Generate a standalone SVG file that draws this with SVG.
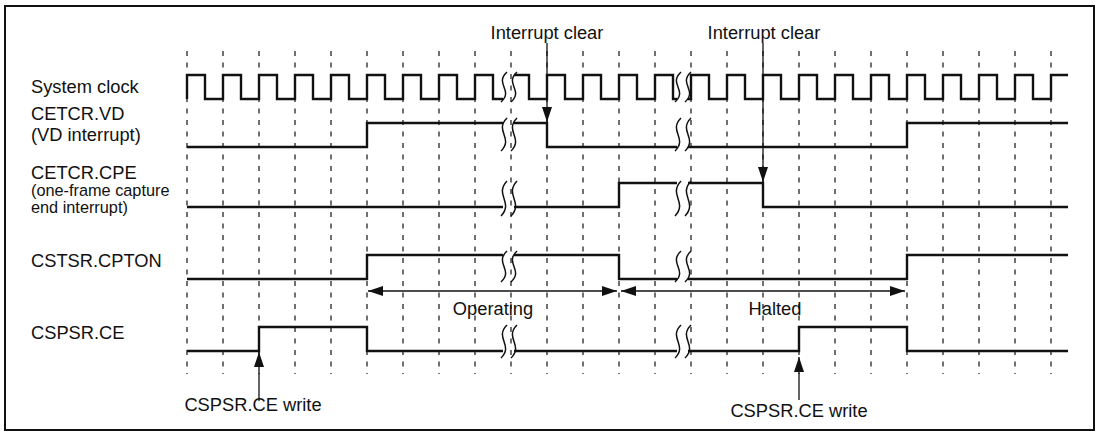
<svg xmlns="http://www.w3.org/2000/svg" width="1100" height="432" viewBox="0 0 1100 432">
<style>
text{font-family:"Liberation Sans",Arial,sans-serif;font-size:18.3px;fill:#111}
.sm{font-size:16.3px}
.mid{text-anchor:middle}
.sig{fill:none;stroke:#111;stroke-width:2.4;stroke-linejoin:miter}
.brk{fill:none;stroke:#111;stroke-width:1.5}
.grid{stroke:#111;stroke-width:1.2;stroke-dasharray:5 6.5}
.con{fill:none;stroke:#111;stroke-width:1.3}
</style>
<defs>
<marker id="ah" markerUnits="userSpaceOnUse" markerWidth="16" markerHeight="11" refX="15" refY="5.5" orient="auto-start-reverse">
<path d="M0,0.5 L15,5.5 L0,10.5 z" fill="#111"/>
</marker>
</defs>
<rect x="5" y="6" width="1089" height="424" fill="#fff" stroke="#111" stroke-width="2"/>
<g id="grid">
<line class="grid" x1="187" y1="51" x2="187" y2="374"/>
<line class="grid" x1="223" y1="51" x2="223" y2="374"/>
<line class="grid" x1="259" y1="51" x2="259" y2="374"/>
<line class="grid" x1="295" y1="51" x2="295" y2="374"/>
<line class="grid" x1="331" y1="51" x2="331" y2="374"/>
<line class="grid" x1="367" y1="51" x2="367" y2="374"/>
<line class="grid" x1="403" y1="51" x2="403" y2="374"/>
<line class="grid" x1="439" y1="51" x2="439" y2="374"/>
<line class="grid" x1="475" y1="51" x2="475" y2="374"/>
<line class="grid" x1="511" y1="51" x2="511" y2="374"/>
<line class="grid" x1="547" y1="51" x2="547" y2="374"/>
<line class="grid" x1="583" y1="51" x2="583" y2="374"/>
<line class="grid" x1="619" y1="51" x2="619" y2="374"/>
<line class="grid" x1="655" y1="51" x2="655" y2="374"/>
<line class="grid" x1="691" y1="51" x2="691" y2="374"/>
<line class="grid" x1="727" y1="51" x2="727" y2="374"/>
<line class="grid" x1="763" y1="51" x2="763" y2="374"/>
<line class="grid" x1="799" y1="51" x2="799" y2="374"/>
<line class="grid" x1="835" y1="51" x2="835" y2="374"/>
<line class="grid" x1="871" y1="51" x2="871" y2="374"/>
<line class="grid" x1="907" y1="51" x2="907" y2="374"/>
<line class="grid" x1="943" y1="51" x2="943" y2="374"/>
<line class="grid" x1="979" y1="51" x2="979" y2="374"/>
<line class="grid" x1="1015" y1="51" x2="1015" y2="374"/>
<line class="grid" x1="1051" y1="51" x2="1051" y2="374"/>
</g>
<g id="clock">
<text x="31" y="93">System clock</text>
<path class="sig" d="M187,99 V75 H205 V99 H223 V75 H241 V99 H259 V75 H277 V99 H295 V75 H313 V99 H331 V75 H349 V99 H367 V75 H385 V99 H403 V75 H421 V99 H439 V75 H457 V99 H475 V75 H493 V99 H503"/>
<path class="sig" d="M514,75 H529 V99 H547 V75 H565 V99 H583 V75 H601 V99 H619 V75 H637 V99 H655 V75 H673 V99 H677"/>
<path class="sig" d="M688,99 H691 V75 H709 V99 H727 V75 H745 V99 H763 V75 H781 V99 H799 V75 H817 V99 H835 V75 H853 V99 H871 V75 H889 V99 H907 V75 H925 V99 H943 V75 H961 V99 H979 V75 H997 V99 H1015 V75 H1033 V99 H1051 V75 H1068"/>
<path class="brk" d="M507,72 C494,84 514,90 501,102 M517,72 C504,84 524,90 511,102 M681,72 C668,84 688,90 675,102 M691,72 C678,84 698,90 685,102"/>
</g>
<g id="vd">
<text x="31" y="120">CETCR.VD</text>
<text x="31" y="141">(VD interrupt)</text>
<path class="sig" d="M187,147 H367 V123 H503 M514,123 H547 V147 H677 M688,147 H907 V123 H1068"/>
<path class="brk" d="M507,118 C494,131 514,138 501,151 M517,118 C504,131 524,138 511,151 M681,118 C668,131 688,138 675,151 M691,118 C678,131 698,138 685,151"/>
</g>
<g id="cpe">
<text x="31" y="179">CETCR.CPE</text>
<text class="sm" x="31" y="196">(one-frame capture</text>
<text class="sm" x="31" y="213">end interrupt)</text>
<path class="sig" d="M187,207 H503 M514,207 H619 V183 H677 M688,183 H763 V207 H1068"/>
<path class="brk" d="M507,181 C494,195 514,202 501,216 M517,181 C504,195 524,202 511,216 M681,181 C668,195 688,202 675,216 M691,181 C678,195 698,202 685,216"/>
</g>
<g id="cpton">
<text x="31" y="267">CSTSR.CPTON</text>
<path class="sig" d="M187,279 H367 V255 H503 M514,255 H619 V279 H677 M688,279 H907 V255 H1068"/>
<path class="brk" d="M507,251 C494,263 514,270 501,282 M517,251 C504,263 524,270 511,282 M681,251 C668,263 688,270 675,282 M691,251 C678,263 698,270 685,282"/>
</g>
<g id="ce">
<text x="31" y="339">CSPSR.CE</text>
<path class="sig" d="M187,351 H259 V327 H367 V351 H503 M514,351 H677 M688,351 H799 V327 H907 V351 H1068"/>
<path class="brk" d="M507,325 C494,338 514,345 501,358 M517,325 C504,338 524,345 511,358 M681,325 C668,338 688,345 675,358 M691,325 C678,338 698,345 685,358"/>
</g>
<g id="connectors">
<line class="con" x1="547" y1="43" x2="547" y2="122" marker-end="url(#ah)"/>
<line class="con" x1="763" y1="43" x2="763" y2="182" marker-end="url(#ah)"/>
<line class="con" x1="259" y1="401" x2="259" y2="352" marker-end="url(#ah)"/>
<line class="con" x1="799" y1="400" x2="799" y2="357" marker-end="url(#ah)"/>
<line class="con" x1="368" y1="291" x2="617" y2="291" marker-start="url(#ah)" marker-end="url(#ah)"/>
<line class="con" x1="621" y1="291" x2="905" y2="291" marker-start="url(#ah)" marker-end="url(#ah)"/>
</g>
<g id="labels">
<text class="mid" x="547" y="39">Interrupt clear</text>
<text class="mid" x="764" y="39">Interrupt clear</text>
<text class="mid" x="493" y="315">Operating</text>
<text class="mid" x="775" y="315">Halted</text>
<text class="mid" x="253" y="411">CSPSR.CE write</text>
<text class="mid" x="799" y="417">CSPSR.CE write</text>
</g>
</svg>
